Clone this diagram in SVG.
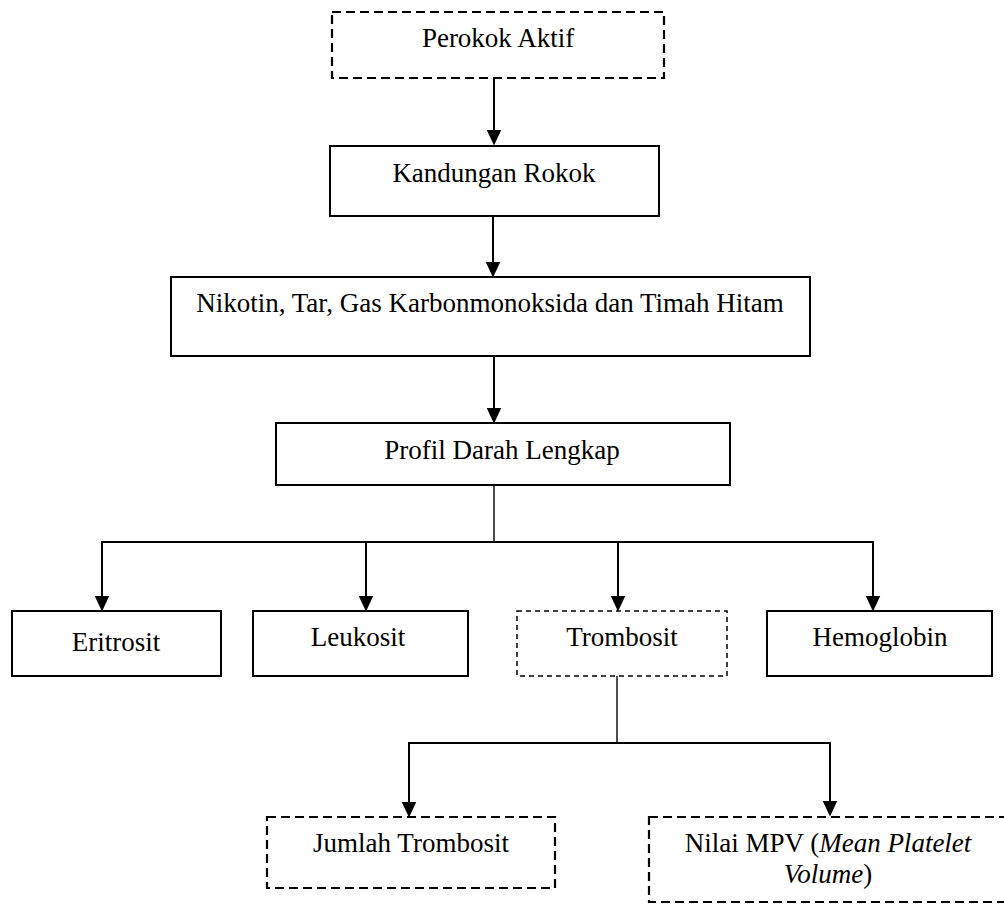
<svg xmlns="http://www.w3.org/2000/svg" width="1004" height="904" viewBox="0 0 1004 904">
<style>
  .box { fill: #fff; stroke: #000; stroke-width: 2; }
  .dash { fill: #fff; stroke: #000; stroke-width: 2.2; stroke-dasharray: 9 5; }
  .dash2 { fill: #fff; stroke: #000; stroke-width: 1.5; stroke-dasharray: 5 4; }
  .lbl { font-family: "Liberation Serif", "Times New Roman", serif; font-size: 27px; fill: #000; text-anchor: middle; }
  .c { fill: none; stroke: #000; stroke-width: 2; }
  .thin { fill: none; stroke: #000; stroke-width: 1.4; }
  .arr { fill: none; stroke: #000; stroke-width: 2; marker-end: url(#ah); }
</style>
<defs>
  <marker id="ah" markerUnits="userSpaceOnUse" markerWidth="16" markerHeight="16" viewBox="0 0 15 14" refX="7" refY="7" orient="auto">
    <path d="M0,0 L15,7 L0,14 Z" fill="#000"/>
  </marker>
</defs>
<rect width="1004" height="904" fill="#fff"/>

<g id="connectors">
  <line class="arr" x1="494" y1="78" x2="494" y2="137"/>
  <line class="arr" x1="493" y1="216" x2="493" y2="269"/>
  <line class="arr" x1="494" y1="356" x2="494" y2="415"/>
  <line class="thin" x1="494" y1="485" x2="494" y2="542"/>
  <line class="c" x1="101" y1="542" x2="874" y2="542"/>
  <line class="arr" x1="102" y1="542" x2="102" y2="603"/>
  <line class="arr" x1="366" y1="542" x2="366" y2="603"/>
  <line class="arr" x1="618" y1="542" x2="618" y2="603"/>
  <line class="arr" x1="873" y1="542" x2="873" y2="603"/>
  <line class="thin" x1="617" y1="676" x2="617" y2="743"/>
  <line class="c" x1="408" y1="743" x2="831" y2="743"/>
  <line class="arr" x1="409" y1="743" x2="409" y2="809"/>
  <line class="arr" x1="830" y1="743" x2="830" y2="808"/>
</g>

<g id="n-perokok">
  <rect class="dash" x="332" y="12" width="332" height="66"/>
  <text class="lbl" x="498" y="47">Perokok Aktif</text>
</g>
<g id="n-kandungan">
  <rect class="box" x="330" y="146" width="329" height="70"/>
  <text class="lbl" x="494" y="182">Kandungan Rokok</text>
</g>
<g id="n-nikotin">
  <rect class="box" x="171" y="277" width="639" height="79"/>
  <text class="lbl" x="490" y="312">Nikotin, Tar, Gas Karbonmonoksida dan Timah Hitam</text>
</g>
<g id="n-profil">
  <rect class="box" x="276" y="423" width="454" height="62"/>
  <text class="lbl" x="502" y="459">Profil Darah Lengkap</text>
</g>
<g id="n-eritrosit">
  <rect class="box" x="12" y="611" width="209" height="65"/>
  <text class="lbl" x="116" y="651">Eritrosit</text>
</g>
<g id="n-leukosit">
  <rect class="box" x="253" y="611" width="215" height="65"/>
  <text class="lbl" x="358" y="646">Leukosit</text>
</g>
<g id="n-trombosit">
  <rect class="dash2" x="517" y="611" width="210" height="65"/>
  <text class="lbl" x="622" y="646">Trombosit</text>
</g>
<g id="n-hemoglobin">
  <rect class="box" x="767" y="611" width="225" height="65"/>
  <text class="lbl" x="880" y="646">Hemoglobin</text>
</g>
<g id="n-jumlah">
  <rect class="dash" x="267" y="817" width="288" height="71"/>
  <text class="lbl" x="411" y="852">Jumlah Trombosit</text>
</g>
<g id="n-mpv">
  <rect class="dash" x="649" y="817" width="360" height="85"/>
  <text class="lbl" x="828" y="852">Nilai MPV (<tspan font-style="italic">Mean Platelet</tspan></text>
  <text class="lbl" x="828" y="883"><tspan font-style="italic">Volume</tspan>)</text>
</g>
</svg>
